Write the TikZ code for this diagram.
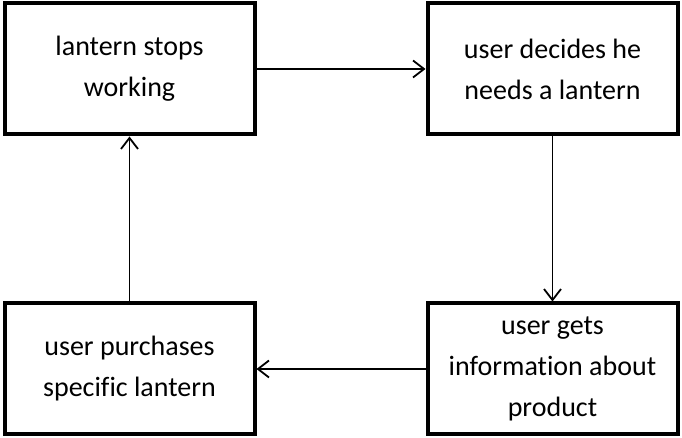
\documentclass[tikz,border=0pt]{standalone}
\usepackage{fontspec}
\setmainfont{Carlito}[Ligatures = NoCommon]
\usetikzlibrary{arrows.meta}

\tikzset{
  stage/.style = {draw = black, line width = 4pt, minimum width = 250pt,
                  minimum height = 131pt, align = center,
                  font = \fontsize{28}{41}\selectfont},
  flow/.style  = {line width = 1.8pt, -{Straight Barb[length = 11pt, width = 17pt, line width = 1.8pt]}}
}

\begin{document}
\begin{tikzpicture}[x = 1pt, y = 1pt]
            \useasboundingbox (0,0) rectangle (682,438);
            \node[stage] (stops) at (129.5,369) {lantern stops\\working};
            \node[stage] (needs) at (552.5,369) {user decides he\\needs a lantern};
            \node[stage] (info) at (552.5,69) {user gets\\information about\\product};
            \node[stage] (buys) at (129.5,69) {user purchases\\specific lantern};
            \draw[flow] (stops) -- (needs);
            \draw[flow] (needs) -- (info);
            \draw[flow] (info) -- (buys);
            \draw[flow] (buys) -- (stops);

        \end{tikzpicture}
\end{document}
